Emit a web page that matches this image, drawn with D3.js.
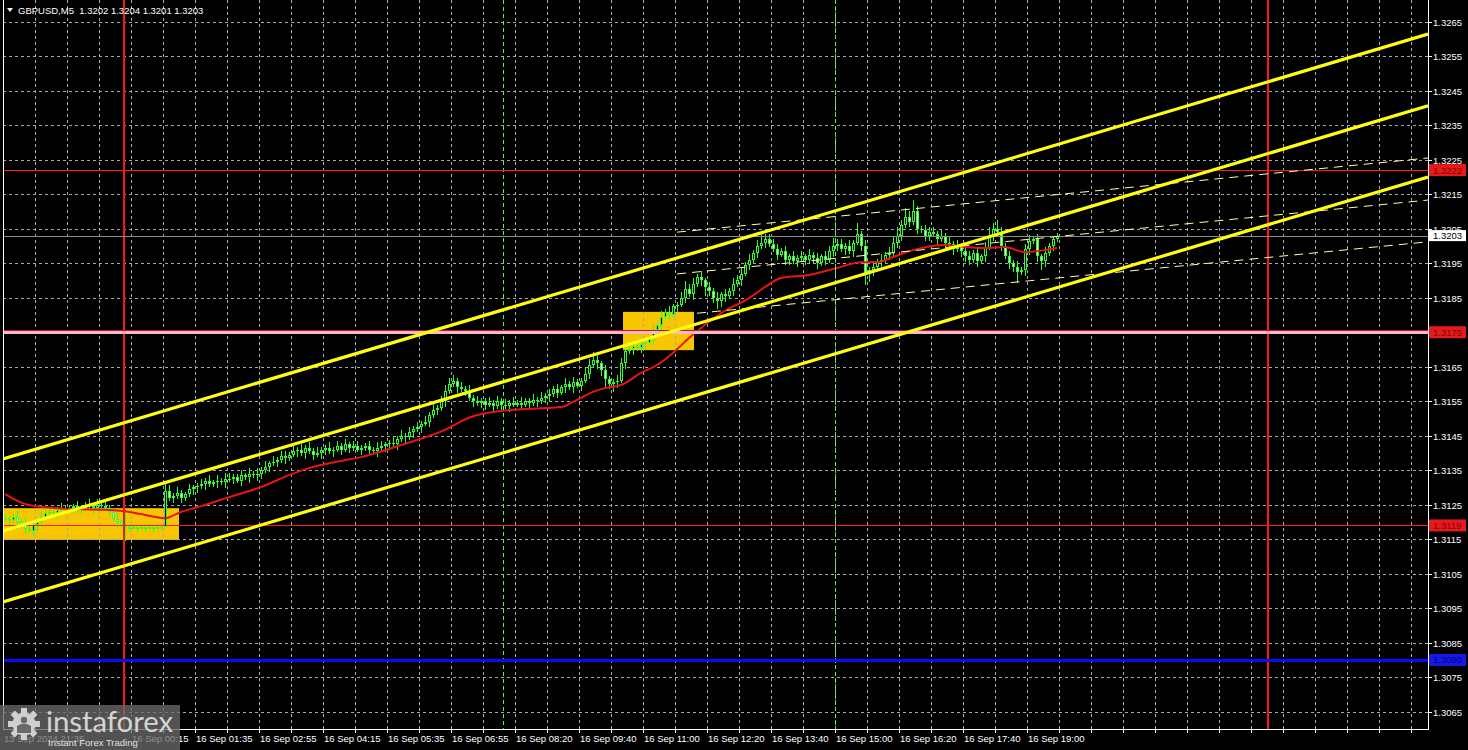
<!DOCTYPE html>
<html><head><meta charset="utf-8">
<script src="https://cdn.jsdelivr.net/npm/d3@7"></script>
<style>html,body{margin:0;padding:0;background:#000;overflow:hidden}</style>
</head><body>
<svg id="c" width="1468" height="750"></svg>
<script>
// ---------------- DATA ----------------
const titleText = "GBPUSD,M5  1.3202 1.3204 1.3201 1.3203";
const firstOpen = 120.5; // pips above 1.3000
// closes, pips above 1.3000, one per 5-minute bar
const closes = [
121,120.5,121.5,120,119,118,117.5,119,
120,121.5,122.5,123,122.5,123.5,124,123.5,
124,124.5,123.5,124,125,124.5,124,125,
124.5,124,123,121,120,119,118.5,118,
118.5,118,118.5,118,118.5,118,118.5,118.5,
129,127,127.5,128.5,127,128,129.5,130,
130.5,131,132,131,131.5,132,131.5,132.5,
132.5,133,132,133.5,133,134,133.5,134,
135,136,137,137.5,138,139,138.5,139.5,
140.5,141,140,141.5,140.5,139.5,140,141,
141.5,140.5,141,142,141,142.5,141.5,142,
141,141.5,142,141,140.5,141.5,142,142.5,
143,142.5,144,145,144.5,146,147,147.5,
148.5,149,151,152.5,153,155,158,160,
161,159,158.5,158,156,155,154.5,155,
154,154.5,153.5,155,154,153.5,154.5,154,
154.5,154,155,154.5,155.5,155,156,156.5,
157,158.5,157.5,159,160,159,160.5,159.5,
161,163,165.5,167,166,164,161.5,160,
160.5,161,166,169.5,170,171,170.5,171.5,
172,173,175.5,177,179.5,181,180,182.5,
183,185,187.5,186,189,191,190,188,
187,185,184,186,185.5,187,189,190,
192,194.5,196,198,200,201,202,200.5,
199,197.5,198.5,196,197,195.5,196.5,197,
196,197.5,196.5,195,197,196,198.5,200,
200.5,199,200,198.5,201,203.5,200,192,
193,194,195.5,196,197.5,198,201,203,
206,208.5,207,210,205,204.5,203,204,
203.5,202,203,201,200.5,199,200,198.5,
197,196,198,195.5,197,199.5,203,205,
204,200,197,195,194,192.5,193,199,
201.5,202,197,195.5,198,200,202,203
];
// upper / lower wick lengths, one digit per bar, in units of 0.8 pip
const wickUnit = 0.8;
const wickHi = ("21121312 12211121 11211212 12112151 10101010 32121121 12121212 21121212 " +
  "12121221 21212121 12121212 21121221 12121212 12121222 21212121 12121212 " +
  "12112121 21212121 12232121 12212121 21212121 12322121 21212122 21212322 " +
  "22121212 12121223 22121412 12121223 23242122 21212121 12121232 32121212 21212111").replace(/ /g,"");
const wickLo = ("12131212 21121212 12121121 21212151 01010101 01212112 21211212 12121212 " +
  "21212121 12121212 21212121 12121212 21212121 21212121 12121212 21212121 " +
  "12121212 21212121 21212232 32121212 21212121 21212123 22322121 21212121 " +
  "12122121 21221212 21212124 32121212 21212122 12121212 22121212 12122412 21232121").replace(/ /g,"");

// moving average: bar index and pips
const maBars = [0,6,15.5,26,29.5,34,40,44,49,56,64,71,76,84,89,99,110,116,124,131,139,142,147,150,154,159,163,167,171,179,186,190,194,201,208,214,218,222,227,235,240,245,250,255,260,263];
const maPips = [128.1,124.9,123.8,123.5,123.2,122.3,121.1,122.9,124.6,127.2,130.1,133.6,135.6,137.7,138.8,142.3,146.7,150.2,152.2,152.8,153.3,154.8,157.7,158.8,159.7,163.2,165.5,169.0,173.3,180.5,184.9,188.1,190.7,191.6,193.6,195.3,195.3,196.8,198.8,200.3,199.7,199.4,199.7,198.2,198.8,199.4];

// price axis labels
const priceTicks = ["1.3265","1.3255","1.3245","1.3235","1.3225","1.3215","1.3205","1.3195","1.3185","1.3175",
  "1.3165","1.3155","1.3145","1.3135","1.3125","1.3115","1.3105","1.3095","1.3085","1.3075","1.3065"];
// time axis labels and their bar-boundary index
const timeLabels = ["13 Sep 2024 21:35","16 Sep 00:15","16 Sep 01:35","16 Sep 02:55","16 Sep 04:15","16 Sep 05:35",
  "16 Sep 06:55","16 Sep 08:20","16 Sep 09:40","16 Sep 11:00","16 Sep 12:20","16 Sep 13:40","16 Sep 15:00",
  "16 Sep 16:20","16 Sep 17:40","16 Sep 19:00"];
const timeLabelBars = [0,32,48,64,80,96,112,128,144,160,176,192,208,224,240,256];

// horizontal levels
const levelPrices = [1.3222, 1.3175, 1.3119, 1.3080];
const levelTexts = ["1.3222","1.3175","1.3119","1.3080"];
const bidPrice = 1.3203;
// vertical markers (bar-boundary index)
const redVerticals = [30, 316];
const greenVerticals = [125, 208];
// yellow rectangles: [startBar, endBar, lowPips, highPips]
const boxStart = [-0.5, 154.5];
const boxEnd = [43.5, 172.25];
const boxLow = [114.8, 169.8];
const boxHigh = [124.0, 180.9];
// thick channel lines: pips at left (bar 0) and right (bar 356.25) edge
const channelLeft = [138.3, 117.4, 96.8];
const channelRight = [261.4, 240.6, 220.0];
// thin dashed lines: start bar, start pips, end pips
const thinStart = [168.5, 168.5, 173.5];
const thinStartPips = [204.0, 191.9, 180.5];
const thinEndPips = [225.5, 213.3, 201.2];

// ---------------- DRAW ----------------
const W = 1468, H = 750;
const L = 3, R = 1428, B = 729;
const svg = d3.select("#c");
const x = d3.scaleLinear().domain([0, 356.25]).range([L, R]);
const y = d3.scaleLinear().domain([1.3060, 1.3265]).range([B, 21.7]);
const pp = p => 1.3 + p / 10000;
const crisp = v => Math.round(v) + 0.5;
const font = "'Liberation Sans', Arial, sans-serif";

svg.append("rect").attr("width", W).attr("height", H).attr("fill", "#000");

svg.append("clipPath").attr("id", "plot").append("rect").attr("x", L).attr("y", 0).attr("width", R - L).attr("height", B);
const plot = svg.append("g").attr("clip-path", "url(#plot)");

// yellow boxes
plot.selectAll("rect.box").data(boxStart).join("rect")
  .attr("x", d => x(d + 0.5)).attr("width", (d, i) => x(boxEnd[i] + 0.5) - x(d + 0.5))
  .attr("y", (d, i) => y(pp(boxHigh[i]))).attr("height", (d, i) => y(pp(boxLow[i])) - y(pp(boxHigh[i])))
  .attr("fill", "#f7c600");

// grid
const gridColor = "#a8a8a8";
plot.selectAll("line.hg").data(priceTicks).join("line")
  .attr("x1", L).attr("x2", R)
  .attr("y1", d => crisp(y(+d))).attr("y2", d => crisp(y(+d)))
  .attr("stroke", gridColor).attr("stroke-width", 1).attr("stroke-dasharray", "3,3");
const vgrid = d3.range(8, 356, 8);
plot.selectAll("line.vg").data(vgrid).join("line")
  .attr("x1", d => crisp(x(d))).attr("x2", d => crisp(x(d)))
  .attr("y1", 0).attr("y2", B)
  .attr("stroke", gridColor).attr("stroke-width", 1).attr("stroke-dasharray", "3,3");

// candles
const bars = closes.map((c, k) => {
  const o = k === 0 ? firstOpen : closes[k - 1];
  const hi = Math.max(o, c) + (+wickHi[k]) * wickUnit;
  const lo = Math.min(o, c) - (+wickLo[k]) * wickUnit;
  return {k, o, c, hi, lo};
});
const green = "#2cff2c";
const cg = plot.append("g").attr("shape-rendering", "crispEdges");
const bTop = d => Math.round(y(pp(Math.max(d.o, d.c))));
const bBot = d => Math.round(y(pp(Math.min(d.o, d.c))));
cg.selectAll("rect.wick").data(bars).join("rect")
  .attr("x", d => Math.round(x(d.k)) + 2).attr("width", 1)
  .attr("y", d => Math.round(y(pp(d.hi)))).attr("height", d => Math.max(1, Math.round(y(pp(d.lo))) - Math.round(y(pp(d.hi)))))
  .attr("fill", green);
cg.selectAll("rect.body").data(bars).join("rect")
  .attr("x", d => Math.round(x(d.k)) + 1).attr("width", 3)
  .attr("y", bTop).attr("height", d => Math.max(1, bBot(d) - bTop(d)))
  .attr("fill", green);
cg.selectAll("rect.inner").data(bars.filter(d => bBot(d) - bTop(d) >= 3)).join("rect")
  .attr("x", d => Math.round(x(d.k)) + 2).attr("width", 1)
  .attr("y", d => bTop(d) + 1).attr("height", d => bBot(d) - bTop(d) - 2)
  .attr("fill", d => d.c > d.o ? "#000" : "#e0ffe0");

// moving average
plot.append("path").datum(maBars.map((b, i) => [b, maPips[i]]))
  .attr("d", d3.line().x(d => x(d[0] + 0.5)).y(d => y(pp(d[1]))).curve(d3.curveMonotoneX))
  .attr("fill", "none").attr("stroke", "#e81414").attr("stroke-width", 2);

// vertical markers
plot.selectAll("line.rv").data(redVerticals).join("line")
  .attr("x1", d => Math.round(x(d)) + 1).attr("x2", d => Math.round(x(d)) + 1)
  .attr("y1", 0).attr("y2", B).attr("stroke", "#ff1414").attr("stroke-width", 2)
  .attr("shape-rendering", "crispEdges");
plot.selectAll("line.gv").data(greenVerticals).join("line")
  .attr("x1", d => crisp(x(d))).attr("x2", d => crisp(x(d)))
  .attr("y1", 0).attr("y2", B).attr("stroke", "#55ff22").attr("stroke-width", 1).attr("stroke-dasharray", "4,3")
  .attr("shape-rendering", "crispEdges");

// bid line
plot.append("line").attr("x1", L).attr("x2", R)
  .attr("y1", crisp(y(bidPrice))).attr("y2", crisp(y(bidPrice)))
  .attr("stroke", "#8c8c8c").attr("stroke-width", 1).attr("shape-rendering", "crispEdges");

// horizontal levels
const levelStroke = ["#ff1a1a", "#f6b8ca", "#ff1a1a", "#0a0aff"];
const levelWidth = [1, 3, 1, 3];
levelPrices.forEach((v, i) => {
  const yy = Math.round(y(v));
  if (i === 1) {
    plot.append("line").attr("x1", L).attr("x2", R)
      .attr("y1", yy - 2 + 0.5).attr("y2", yy - 2 + 0.5).attr("stroke", "#c81020").attr("stroke-width", 1)
      .attr("shape-rendering", "crispEdges");
  }
  plot.append("line").attr("x1", L).attr("x2", R)
    .attr("y1", yy + 0.5).attr("y2", yy + 0.5)
    .attr("stroke", levelStroke[i]).attr("stroke-width", levelWidth[i]).attr("shape-rendering", "crispEdges");
});

// thin dashed lines
plot.selectAll("line.thin").data(thinStart).join("line")
  .attr("x1", d => x(d)).attr("x2", R)
  .attr("y1", (d, i) => y(pp(thinStartPips[i]))).attr("y2", (d, i) => y(pp(thinEndPips[i])))
  .attr("stroke", "#ffffa8").attr("stroke-width", 1).attr("stroke-dasharray", "9,6");

// channel lines
plot.selectAll("line.ch").data(channelLeft).join("line")
  .attr("x1", x(0)).attr("x2", x(356.25))
  .attr("y1", d => y(pp(d))).attr("y2", (d, i) => y(pp(channelRight[i])))
  .attr("stroke", "#ffff10").attr("stroke-width", 3.2);

// frame
const frame = svg.append("g").attr("shape-rendering", "crispEdges");
frame.append("line").attr("x1", L + 0.5).attr("x2", L + 0.5).attr("y1", 0).attr("y2", B + 1).attr("stroke", "#fff");
frame.append("line").attr("x1", R + 0.5).attr("x2", R + 0.5).attr("y1", 0).attr("y2", B + 1).attr("stroke", "#fff");
frame.append("line").attr("x1", L).attr("x2", R + 1).attr("y1", B + 0.5).attr("y2", B + 0.5).attr("stroke", "#fff");

// right axis
const ax = svg.append("g");
priceTicks.forEach(t => {
  const yy = crisp(y(+t));
  ax.append("line").attr("x1", R).attr("x2", R + 4).attr("y1", yy).attr("y2", yy).attr("stroke", "#fff").attr("shape-rendering", "crispEdges");
  ax.append("text").attr("x", R + 5).attr("y", yy + 3.5).text(t)
    .attr("fill", "#fff").attr("font-family", font).attr("font-size", "9.5px");
});
// bottom axis
vgrid.forEach(d => {
  const xx = crisp(x(d));
  ax.append("line").attr("x1", xx).attr("x2", xx).attr("y1", B).attr("y2", B + 4).attr("stroke", "#fff").attr("shape-rendering", "crispEdges");
});
timeLabels.forEach((t, i) => {
  ax.append("text").attr("x", x(timeLabelBars[i]) + 1).attr("y", 742).text(t)
    .attr("fill", "#fff").attr("font-family", font).attr("font-size", "9.5px");
});

// price boxes
const boxFill = ["#e41a1c", "#e41a1c", "#e41a1c", "#1818e0"];
const boxText = ["#8a0000", "#8a0000", "#8a0000", "#00008a"];
levelPrices.forEach((v, i) => {
  const yy = y(v);
  ax.append("rect").attr("x", R + 1).attr("y", yy - 6).attr("width", 37).attr("height", 12).attr("fill", boxFill[i]);
  ax.append("text").attr("x", R + 5).attr("y", yy + 3.5).text(levelTexts[i])
    .attr("fill", boxText[i]).attr("font-family", font).attr("font-size", "9.5px");
});
ax.append("rect").attr("x", R + 1).attr("y", y(bidPrice) - 5.5).attr("width", 37).attr("height", 11).attr("fill", "#fff");
ax.append("text").attr("x", R + 5).attr("y", y(bidPrice) + 3.5).text(bidPrice.toFixed(4))
  .attr("fill", "#000").attr("font-family", font).attr("font-size", "9.5px");

// title
svg.append("path").attr("d", "M7,8 L13,8 L10,12 Z").attr("fill", "#fff");
svg.append("text").attr("x", 18).attr("y", 14).text(titleText)
  .attr("fill", "#fff").attr("font-family", font).attr("font-size", "9.5px")
  .style("white-space", "pre");

// logo
const lg = svg.append("g");
lg.append("rect").attr("x", 0).attr("y", 705).attr("width", 180).attr("height", 45).attr("fill", "rgba(105,105,105,0.78)");
const gcx = 24, gcy = 724;
d3.range(8).forEach(i => {
  lg.append("rect").attr("x", gcx - 3).attr("y", gcy - 16).attr("width", 6).attr("height", 7)
    .attr("fill", "#cfcfcf").attr("transform", `rotate(${i * 45},${gcx},${gcy})`);
});
lg.append("circle").attr("cx", gcx).attr("cy", gcy).attr("r", 11.5).attr("fill", "#cfcfcf");
lg.append("circle").attr("cx", gcx).attr("cy", gcy - 4).attr("r", 3.2).attr("fill", "#6a6a6a");
lg.append("path").attr("d", `M${gcx - 7},${gcy + 9} L${gcx - 7},${gcy + 2} Q${gcx},${gcy - 3} ${gcx + 7},${gcy + 2} L${gcx + 7},${gcy + 9} Z`).attr("fill", "#6a6a6a");
lg.append("text").attr("x", 46).attr("y", 732).text("instaforex")
  .attr("fill", "#d4d4d4").attr("font-family", "Lato, 'Open Sans', sans-serif").attr("font-size", "29px")
  .attr("textLength", 127).attr("lengthAdjust", "spacingAndGlyphs");
lg.append("text").attr("x", 48).attr("y", 746).text("Instant Forex Trading")
  .attr("fill", "#e0e0e0").attr("font-family", font).attr("font-size", "9.5px");
</script>
</body></html>
